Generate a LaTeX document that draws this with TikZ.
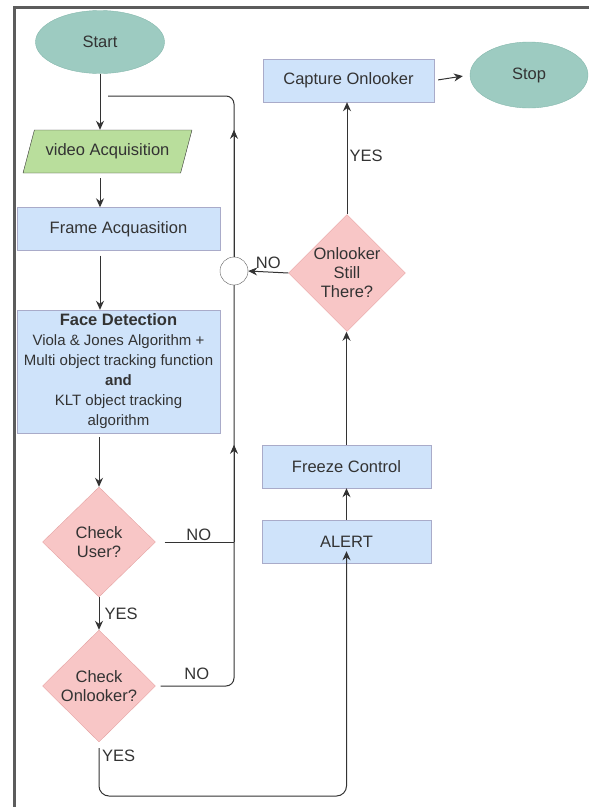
\documentclass[tikz,border=0pt]{standalone}
\usepackage{fontspec}
\setmainfont{Liberation Sans}
\usepackage{xcolor}
\usetikzlibrary{arrows.meta,positioning,shapes.geometric}

\definecolor{termfill}{HTML}{9DCBC1}
\definecolor{termdraw}{HTML}{86B8AD}
\definecolor{boxfill}{HTML}{CFE3FA}
\definecolor{boxdraw}{HTML}{A9ABC9}
\definecolor{iofill}{HTML}{B9DE9C}
\definecolor{decfill}{HTML}{F8C6C6}
\definecolor{decdraw}{HTML}{E5A3A3}
\definecolor{ink}{HTML}{333333}

\begin{document}
\begin{tikzpicture}[
		x=1pt, y=-1pt,
		every node/.style={text=ink, font=\fontsize{16.5}{19}\selectfont},
		terminal/.style={
			ellipse,
			draw=termdraw,
			fill=termfill,
			inner sep=0pt
		},
		procbox/.style={
			rectangle,
			draw=boxdraw,
			fill=boxfill,
			align=center,
			minimum width=169pt,
			minimum height=43pt
		},
		iobox/.style={
			trapezium,
			trapezium left angle=58,
			trapezium right angle=122,
			trapezium stretches=true,
			draw=ink,
			fill=iofill,
			minimum width=169pt,
			minimum height=43pt,
			inner sep=0pt
		},
		decision/.style={
			diamond,
			draw=decdraw,
			fill=decfill,
			align=center,
			inner sep=0pt,
			minimum width=113pt,
			minimum height=112pt
		},
		joint/.style={circle, draw=ink!80, fill=white, minimum size=28pt, inner sep=0pt},
		arrow/.style={-{Stealth[length=9pt,width=8pt]}, line width=1pt, draw=ink},
		link/.style={line width=1pt, draw=ink},
		lbl/.style={inner sep=1pt}
		]
		\useasboundingbox (0,0) rectangle (589,807);
		% frame of the screenshot
		\draw[line width=3pt, ink!80] (14,807) -- (14,7) -- (589,7);
		
		% left column
		\node[terminal, minimum width=129pt, minimum height=63pt] (start) at (100,42) {Start};
		\node[iobox] (video) at (107.5,151.5) {video Acquisition};
		\node[procbox, minimum width=203pt] (frame) at (118.5,229) {Frame Acquasition};
		\node[procbox, minimum width=203pt, minimum height=123pt, inner sep=1pt,
			font=\fontsize{15}{20}\selectfont] (face) at (118.5,371.5)
			{{\fontsize{16.5}{20}\selectfont\bfseries Face Detection}\\
			Viola \& Jones Algorithm +\\
			Multi object tracking function\\
			\textbf{and}\\
			KLT object tracking\\
			algorithm};
		\node[decision, minimum height=110pt] (chkuser) at (99,542) {Check\\User?};
		\node[decision] (chkonl) at (99,686) {Check\\Onlooker?};
		
		% right column
		\node[procbox, minimum width=171pt] (capture) at (348.5,80.5) {Capture Onlooker};
		\node[terminal, minimum width=118pt, minimum height=66pt] (stop) at (529,75) {Stop};
		\node[decision, minimum width=114pt, minimum height=114pt] (still) at (347,273) {Onlooker\\Still\\There?};
		\node[joint] (circ) at (234,271) {};
		\node[procbox] (freeze) at (346.5,466.5) {Freeze Control};
		\node[procbox] (alert) at (346.5,541.5) {ALERT};
		\coordinate (join) at (108,96);
		\coordinate (bot) at (0,796);
		
		% main flow
		\draw[arrow] (start) -- (start |- video.north);
		\draw[arrow] (start |- video.south) ++(0,5) -- (start |- frame.north);
		\draw[arrow] (start |- frame.south) ++(0,5) -- (start |- face.north);
		\draw[arrow] (chkuser.north |- face.south) ++(0,4) -- (chkuser.north);
		\draw[arrow] (chkuser.south) -- node[lbl, right=4pt] {YES} (chkonl.north);
		
		% NO branches back to the loop
		\draw[link, shorten <=9pt] (chkuser.east) -- node[lbl, above, xshift=4pt] {NO} (circ |- chkuser.east);
		\draw[link, shorten <=5pt, rounded corners=8pt] (chkonl.east) -- node[lbl, above=5pt, xshift=2pt] {NO} (circ |- chkonl.east) -- (circ.south);
		\draw[arrow] (circ |- chkuser.east) -- (circ |- freeze.north);
		\draw[link, rounded corners=8pt] (circ.north) -- (circ |- join) -- (join);
		\draw[arrow] (circ.north) -- (circ |- video.north);
		
		% YES branch to alert
		\draw[arrow, rounded corners=10pt] (chkonl.south) ++(0,6) -- (chkonl.south |- bot) -- (alert |- bot) -- ([yshift=12pt]alert.south);
		\node[lbl, anchor=west] at (101,756) {YES};
		
		\draw[arrow] (alert) -- (freeze);
		\draw[arrow] (freeze.north) -- (freeze.north |- still.south);
		\draw[arrow] (still.west) -- node[lbl, above=2pt] {NO} (circ.east);
		\draw[arrow] (still.north) -- node[lbl, right=1pt, pos=0.52] {YES} (still.north |- capture.south);
		\draw[arrow, shorten <=4pt, shorten >=7pt] (capture.east) -- (stop.west);
	\end{tikzpicture}
\end{document}
